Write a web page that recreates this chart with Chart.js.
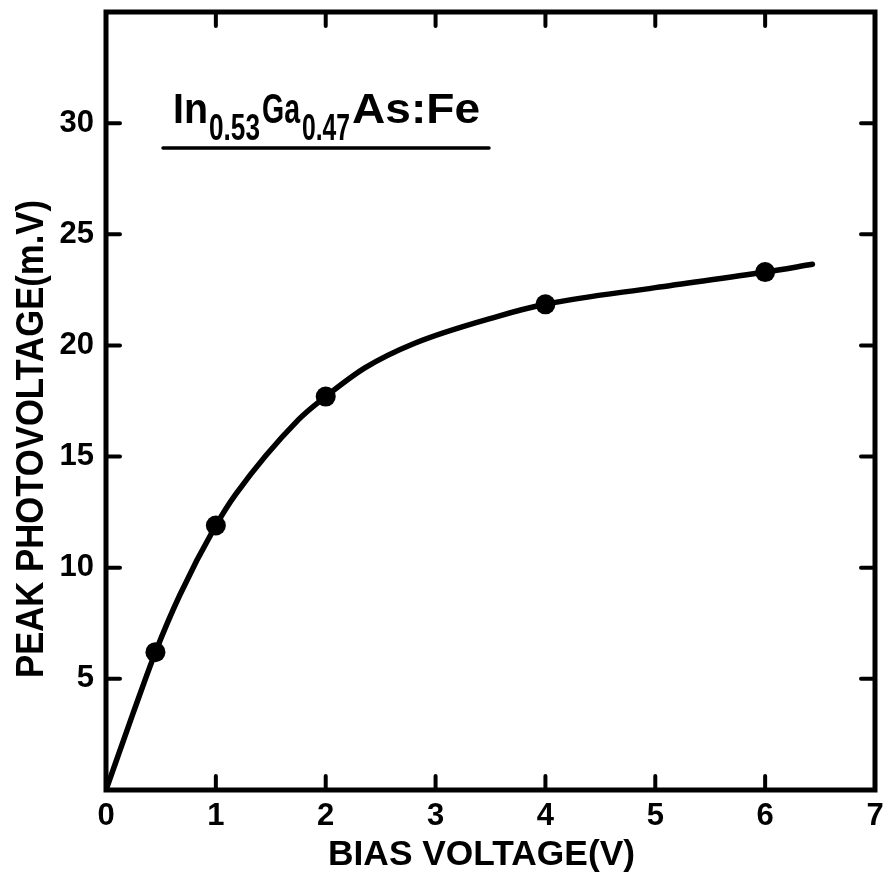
<!DOCTYPE html>
<html>
<head>
<meta charset="utf-8">
<script src="https://cdn.jsdelivr.net/npm/chart.js@4/dist/chart.umd.min.js"></script>
<style>
  html, body { margin: 0; padding: 0; background: #fff; }
</style>
</head>
<body>
<canvas id="grafico" width="885" height="882"></canvas>
<script>
// Pontos medidos (tensão de polarização x fototensão de pico)
const tensaoBias = [0.45, 1, 2, 4, 6];
const fotoTensao = [6.2, 11.9, 17.7, 21.85, 23.3];

// Curva suave que passa pelos pontos
const curvaX = [0, 0.25, 0.45, 0.67, 1.0, 1.18, 1.75, 2.0, 2.36, 2.81, 3.56, 4.0, 5.0, 6.0, 6.43];
const curvaY = [0, 3.5, 6.2, 8.75, 11.9, 13.3, 16.65, 17.7, 19.0, 20.1, 21.3, 21.85, 22.6, 23.3, 23.65];

// Marcas dos eixos
const ticksX = [0, 1, 2, 3, 4, 5, 6, 7];
const ticksY = [5, 10, 15, 20, 25, 30];

const PRETO = "#000";

// Escreve um texto espremido/esticado para ocupar a largura pedida
function textoAjustado(ctx, texto, x, y, largura, fonte, angulo) {
    ctx.save();
    ctx.font = fonte;
    const w = ctx.measureText(texto).width;
    ctx.translate(x, y);
    if (angulo) ctx.rotate(angulo);
    ctx.scale(largura / w, 1);
    ctx.textAlign = "left";
    ctx.textBaseline = "alphabetic";
    ctx.fillText(texto, 0, 0);
    ctx.restore();
}

// Moldura com marcas para dentro nos quatro lados
const molduraPlugin = {
    id: "moldura",
    afterDatasetsDraw(chart) {
        const { ctx, chartArea: a, scales } = chart;
        const tam = 14;
        ctx.save();
        ctx.strokeStyle = PRETO;
        ctx.lineCap = "round";
        ctx.lineWidth = 4;
        ctx.beginPath();
        ticksX.forEach(v => {
            if (v === 0 || v === 7) return;
            const px = scales.x.getPixelForValue(v);
            ctx.moveTo(px, a.bottom); ctx.lineTo(px, a.bottom - tam);
            ctx.moveTo(px, a.top); ctx.lineTo(px, a.top + tam);
        });
        ticksY.forEach(v => {
            const py = scales.y.getPixelForValue(v);
            ctx.moveTo(a.left, py); ctx.lineTo(a.left + tam, py);
            ctx.moveTo(a.right, py); ctx.lineTo(a.right - tam, py);
        });
        ctx.stroke();
        ctx.lineCap = "butt";
        ctx.lineJoin = "miter";
        ctx.lineWidth = 5;
        ctx.strokeRect(a.left, a.top, a.right - a.left, a.bottom - a.top);
        ctx.restore();
    }
};

// Títulos dos eixos e a legenda do material
const textosPlugin = {
    id: "textos",
    afterDraw(chart) {
        const ctx = chart.ctx;
        ctx.save();
        ctx.fillStyle = PRETO;

        textoAjustado(ctx, "BIAS VOLTAGE(V)", 328, 865, 307, "bold 35px 'Liberation Sans'");
        textoAjustado(ctx, "PEAK PHOTOVOLTAGE(m.V)", 43, 678, 478, "bold 39px 'Liberation Sans'", -Math.PI / 2);

        const grande = "bold 42px 'Liberation Sans'";
        const indice = "bold 36px 'Liberation Sans'";
        textoAjustado(ctx, "In", 173, 123, 35, grande);
        textoAjustado(ctx, "0.53", 209, 140, 51, indice);
        textoAjustado(ctx, "Ga", 262, 123, 38, grande);
        textoAjustado(ctx, "0.47", 302, 140, 48, indice);
        textoAjustado(ctx, "As:Fe", 352, 123, 128, grande);

        ctx.strokeStyle = PRETO;
        ctx.lineWidth = 3.5;
        ctx.lineCap = "round";
        ctx.beginPath();
        ctx.moveTo(163, 148);
        ctx.lineTo(489, 148);
        ctx.stroke();
        ctx.restore();
    }
};

const ctx = document.getElementById("grafico").getContext("2d");

new Chart(ctx, {
    type: "scatter",
    data: {
        datasets: [
            {
                label: "curva",
                data: curvaX.map((x, i) => ({ x, y: curvaY[i] })),
                showLine: true,
                cubicInterpolationMode: "monotone",
                borderColor: PRETO,
                borderWidth: 5.5,
                borderCapStyle: "round",
                pointRadius: 0,
                fill: false
            },
            {
                label: "medidas",
                data: tensaoBias.map((x, i) => ({ x, y: fotoTensao[i] })),
                backgroundColor: PRETO,
                borderColor: PRETO,
                pointRadius: 10,
                borderWidth: 0
            }
        ]
    },
    options: {
        responsive: false,
        animation: false,
        devicePixelRatio: 1,
        layout: { padding: { top: 12, right: 5, left: 0, bottom: 0 } },
        plugins: {
            legend: { display: false },
            tooltip: { enabled: false }
        },
        scales: {
            x: {
                type: "linear",
                min: 0,
                max: 7,
                afterBuildTicks: s => { s.ticks = ticksX.map(v => ({ value: v })); },
                afterFit: s => { s.height = 92; s.paddingLeft = 0; s.paddingRight = 0; },
                grid: { display: false, drawTicks: false },
                border: { display: false },
                ticks: {
                    color: PRETO,
                    padding: 8,
                    maxRotation: 0,
                    autoSkip: false,
                    font: { family: "'Liberation Sans'", size: 31, weight: "bold" }
                }
            },
            y: {
                type: "linear",
                min: 0,
                max: 35,
                afterBuildTicks: s => { s.ticks = ticksY.map(v => ({ value: v })); },
                afterFit: s => { s.width = 106; s.paddingTop = 0; s.paddingBottom = 0; },
                grid: { display: false, drawTicks: false },
                border: { display: false },
                ticks: {
                    color: PRETO,
                    padding: 12,
                    autoSkip: false,
                    font: { family: "'Liberation Sans'", size: 31, weight: "bold" }
                }
            }
        }
    },
    plugins: [molduraPlugin, textosPlugin]
});
</script>
</body>
</html>
